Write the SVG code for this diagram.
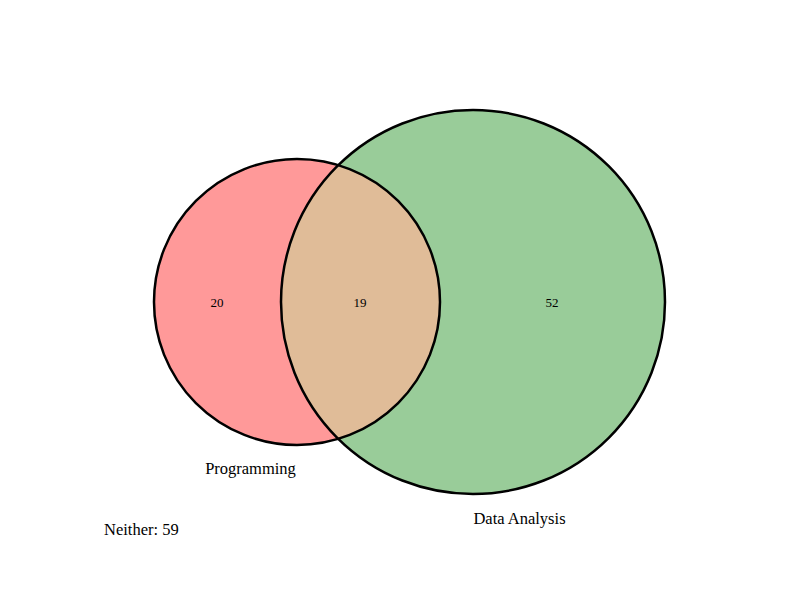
<svg xmlns="http://www.w3.org/2000/svg" width="800" height="600" viewBox="0 0 800 600">
<style>
.num{font-family:"Liberation Serif",serif;font-size:13px;text-anchor:middle;fill:#000}
.lbl{font-family:"Liberation Serif",serif;font-size:16.5px;text-anchor:middle;fill:#000}
.edge{fill:none;stroke:#000;stroke-width:2.5}
</style>
<defs>
<clipPath id="clipA"><circle cx="297" cy="302" r="143"/></clipPath>
</defs>
<rect width="800" height="600" fill="#fff"/>
<g id="programming">
<circle cx="297" cy="302" r="143" fill="#ff9999"/>
</g>
<g id="data-analysis">
<circle cx="473" cy="302" r="192" fill="#99cc99"/>
</g>
<g id="intersection">
<circle cx="473" cy="302" r="192" fill="#e0bc98" clip-path="url(#clipA)"/>
</g>
<g id="outlines">
<circle class="edge" cx="297" cy="302" r="143"/>
<circle class="edge" cx="473" cy="302" r="192"/>
</g>
<g id="labels">
<text class="num" x="217" y="306.5">20</text>
<text class="num" x="360" y="306.5">19</text>
<text class="num" x="552" y="306.5">52</text>
<text class="lbl" x="250.5" y="474">Programming</text>
<text class="lbl" x="519.5" y="524">Data Analysis</text>
<text class="lbl" x="104" y="535" style="text-anchor:start">Neither: 59</text>
</g>
</svg>
